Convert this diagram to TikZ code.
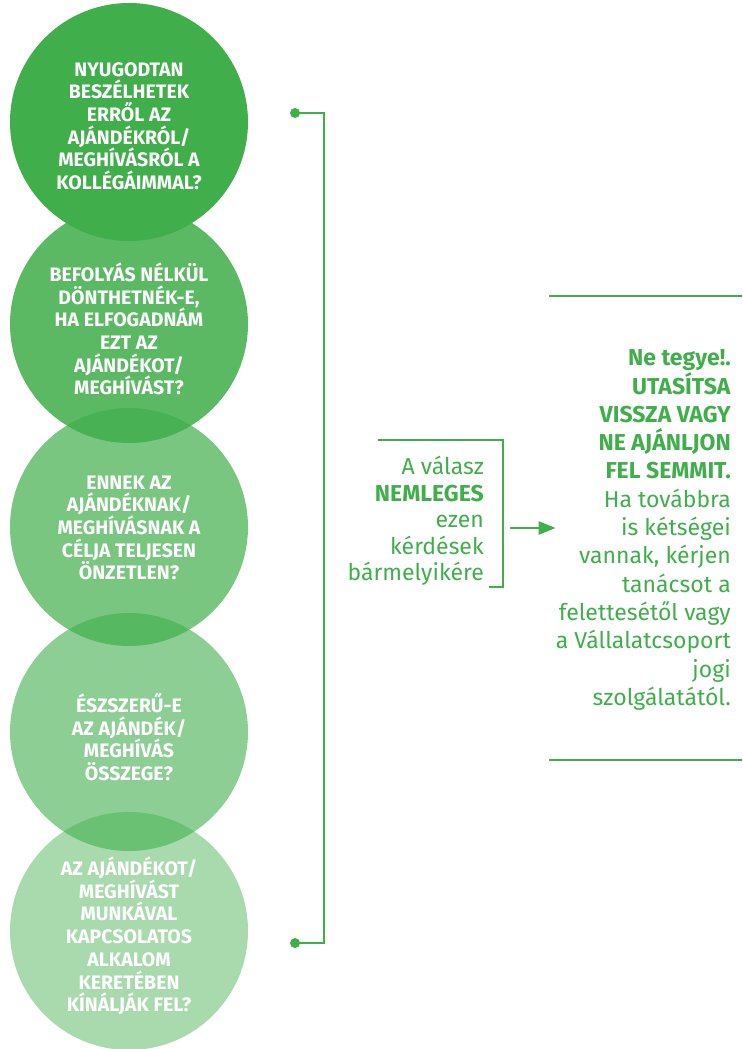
\documentclass[tikz,border=0pt]{standalone}
\usepackage{fontspec}
\setmainfont{Fira Sans}
\usepackage{xcolor}
\usetikzlibrary{arrows.meta}

\definecolor{giftgreen}{HTML}{40AE4B}

\tikzset{
	question/.style={circle, minimum size=238pt, inner sep=0pt, fill=giftgreen},
	qtext/.style={text=white, align=center, inner sep=0pt, font=\fontsize{19.5}{22.7}\selectfont\bfseries},
	note/.style={text=giftgreen, align=right, inner sep=0pt, anchor=east},
	greenline/.style={draw=giftgreen, line width=2.5pt},
}

\begin{document}
\begin{tikzpicture}[x=1pt, y=-1pt]
	\useasboundingbox (0,0) rectangle (742,1049);
	
	% Question circles
	\node[question] (q1) at (129,122) {};
	\node[question, fill opacity=0.86] (q2) at (129,324) {};
	\node[question, fill opacity=0.70] (q3) at (129,527) {};
	\node[question, fill opacity=0.60] (q4) at (129,732) {};
	\node[question, fill opacity=0.455] (q5) at (129,931) {};
	
	% Questions
	\node[qtext] (t1) at ([yshift=-4pt]q1) {NYUGODTAN\\BESZÉLHETEK\\ERRŐL AZ\\AJÁNDÉKRÓL/\\MEGHÍVÁSRÓL A\\KOLLÉGÁIMMAL?};
	\node[qtext] (t2) at ([yshift=-5pt]q2) {BEFOLYÁS NÉLKÜL\\DÖNTHETNÉK-E,\\HA ELFOGADNÁM\\EZT AZ\\AJÁNDÉKOT/\\MEGHÍVÁST?};
	\node[qtext] (t3) at ([yshift=-1pt]q3) {ENNEK AZ\\AJÁNDÉKNAK/\\MEGHÍVÁSNAK A\\CÉLJA TELJESEN\\ÖNZETLEN?};
	\node[qtext] (t4) at ([yshift=-5pt]q4) {ÉSZSZERŰ-E\\AZ AJÁNDÉK/\\MEGHÍVÁS\\ÖSSZEGE?};
	\node[qtext] (t5) at ([yshift=-5pt]q5) {AZ AJÁNDÉKOT/\\MEGHÍVÁST\\MUNKÁVAL\\KAPCSOLATOS\\ALKALOM\\KERETÉBEN\\KÍNÁLJÁK FEL?};
	
	% Bracket
	\coordinate (btop) at (295,113);
	\coordinate (bbot) at (295,943);
	\draw[greenline] (btop) -- ++(29,0) |- (bbot);
	\fill[giftgreen] (btop) circle (5) (bbot) circle (5);
	
	% Answer box
	\node[note, font=\fontsize{23}{26.5}\selectfont] (answer) at (484,521) {A válasz\\\textbf{NEMLEGES}\\ezen\\kérdések\\bármelyikére};
	\coordinate (boxtl) at (378,440);
	\coordinate (boxbr) at (503,587);
	\draw[greenline] (boxtl) -| (boxbr) -- ++(-14,0);
	
	% Advice
	\node[note, font=\fontsize{23}{28.3}\selectfont] (advice) at (731,530) {\textbf{Ne tegye!.}\\\textbf{UTASÍTSA}\\\textbf{VISSZA VAGY}\\\textbf{NE AJÁNLJON}\\\textbf{FEL SEMMIT.}\\Ha továbbra\\is kétségei\\vannak, kérjen\\tanácsot a\\felettesétől vagy\\a Vállalatcsoport\\jogi\\szolgálatától.};
	\draw[greenline] (549,296) -- (742,296);
	\draw[greenline] (549,760) -- (742,760);
	
	% Arrow
	\coordinate (arrstart) at (510,528);
	\draw[greenline, -{Triangle[length=17pt,width=13pt]}] (arrstart) -- (advice.west |- arrstart);
\end{tikzpicture}
\end{document}
